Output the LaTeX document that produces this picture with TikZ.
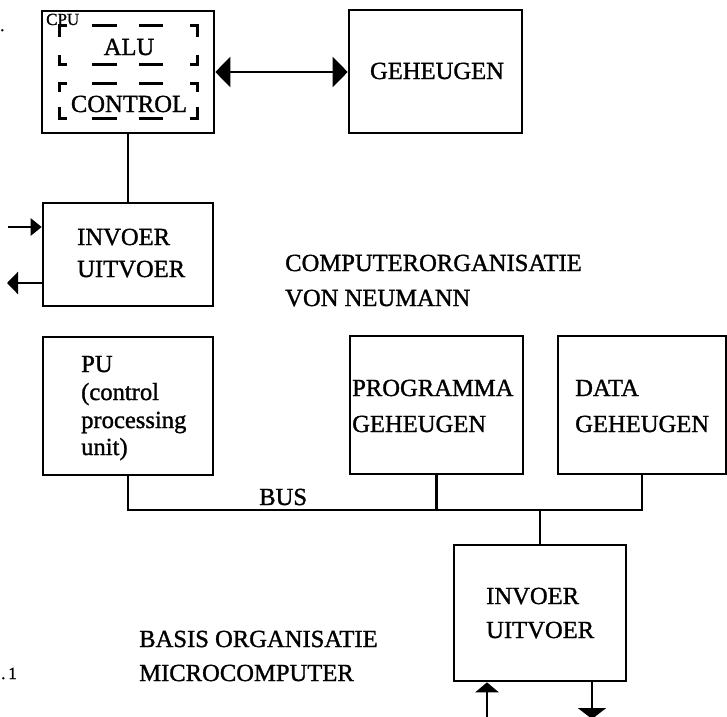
\documentclass[tikz,border=0pt]{standalone}
\usepackage{fontspec}
\setmainfont{Liberation Serif}[FakeBold=1.2]
\usetikzlibrary{arrows.meta,calc}
\begin{document}
\begin{tikzpicture}[x=1pt,y=-1pt,
  box/.style={draw, line width=2.6pt, inner sep=0pt, minimum width=#1},
  conn/.style={line width=2.5pt},
  frame/.style={line width=2.7pt},
  txt/.style={font=\fontsize{24.6}{28}\selectfont, inner sep=0pt, anchor=base west},
  ctxt/.style={font=\fontsize{24.6}{28}\selectfont, inner sep=0pt, anchor=base},
  small/.style={font=\fontsize{17}{19}\selectfont, inner sep=0pt, anchor=base west}]
\useasboundingbox (0,0) rectangle (727,716);

% boxes
\node[box=172pt, minimum height=122pt] (cpu)  at (128,72) {};
\node[inner sep=0pt, minimum width=137pt, minimum height=38pt] (alu)  at (128.5,45) {};
\node[inner sep=0pt, minimum width=137pt, minimum height=34pt] (ctrl) at (128.5,101) {};
\node[box=173pt, minimum height=123pt] (mem)  at (435.5,71.5) {};
\node[box=170pt, minimum height=103pt] (io1)  at (128,254.5) {};
\node[box=170pt, minimum height=138pt] (pu)   at (128,406) {};
\node[box=173pt, minimum height=138pt] (prog) at (436.5,405) {};
\node[box=168pt, minimum height=138pt] (data) at (642,405) {};
\node[box=172pt, minimum height=136pt] (io2)  at (540,613) {};

% dashed frames of ALU and CONTROL
\newcommand\dashframe[3]{% name, top leg, bottom leg
  \draw[frame] ([yshift=-#2]#1.north west) -- (#1.north west) -- ++(7pt,0pt);
  \draw[frame] ([yshift=-#2]#1.north east) -- (#1.north east) -- ++(-7pt,0pt);
  \draw[frame] ([yshift=#3]#1.south west) -- (#1.south west) -- ++(7pt,0pt);
  \draw[frame] ([yshift=#3]#1.south east) -- (#1.south east) -- ++(-7pt,0pt);
  \draw[frame] ([xshift=32pt]#1.north west) -- ++(25pt,0pt);
  \draw[frame] ([xshift=79pt]#1.north west) -- ++(24pt,0pt);
  \draw[frame] ([xshift=32pt]#1.south west) -- ++(25pt,0pt);
  \draw[frame] ([xshift=79pt]#1.south west) -- ++(24pt,0pt);
}
\dashframe{alu}{11pt}{9pt}
\dashframe{ctrl}{8pt}{11pt}

% texts
\node[small] (tcpu) at (46,25) {CPU};
\node[ctxt] (talu) at (129,55) {ALU};
\node[ctxt] (tctrl) at (129,112) {CONTROL};
\node[ctxt] (tmem) at (437,79) {GEHEUGEN};
\node[txt] (tio1a) at (77,245) {INVOER};
\node[txt] (tio1b) at (77,277) {UITVOER};
\node[txt] (tvn1) at (285,271) {COMPUTERORGANISATIE};
\node[txt] (tvn2) at (285,306) {VON NEUMANN};
\node[txt] (tpu1) at (81,372) {PU};
\node[txt] (tpu2) at (81,400) {(control};
\node[txt] (tpu3) at (81,428) {processing};
\node[txt] (tpu4) at (81,455) {unit)};
\node[txt] (tprog1) at (352,396) {PROGRAMMA};
\node[txt] (tprog2) at (352,432) {GEHEUGEN};
\node[txt] (tdata1) at (575,396) {DATA};
\node[txt] (tdata2) at (575,432) {GEHEUGEN};
\node[txt] (tbus) at (259,505) {BUS};
\node[txt] (tio2a) at (486,604) {INVOER};
\node[txt] (tio2b) at (486,638) {UITVOER};
\node[txt] (tb1) at (139,647) {BASIS ORGANISATIE};
\node[txt] (tb2) at (139,681) {MICROCOMPUTER};
\node[font=\fontsize{17}{20}\selectfont, inner sep=0pt, anchor=base west] (tfig) at (1,679) {.\,1};
\node[font=\fontsize{17}{20}\selectfont, inner sep=0pt, anchor=base west] (tdot) at (0,31) {.};

% connectors
\draw[conn] (cpu.south) -- (io1.north);
\draw[conn, {Triangle[length=15pt,width=30pt]}-{Triangle[length=15pt,width=30pt]}]
  (cpu.east) -- (cpu.east -| mem.west);

\coordinate (in1) at (8,227);
\coordinate (out1) at (7,283);
\draw[conn, -{Triangle[length=11pt,width=17pt]}] (in1) -- (in1 -| io1.west);
\draw[conn, -{Triangle[length=11pt,width=22pt]}] (out1 -| io1.west) -- (out1);

\coordinate (bus) at (0,510);
\draw[conn] (pu.south) -- (pu.south |- bus) -- (data.south |- bus) -- (data.south);
\draw[conn] (prog.south) -- (prog.south |- bus);
\draw[conn] (io2.north) -- (io2.north |- bus);

\coordinate (inb) at (487,720);
\coordinate (outb) at (592,719);
\draw[conn, -{Triangle[length=10pt,width=23pt]}] (inb) -- (inb |- io2.south);
\draw[conn, -{Triangle[length=11pt,width=28pt]}] (outb |- io2.south) -- (outb);
\end{tikzpicture}
\end{document}
